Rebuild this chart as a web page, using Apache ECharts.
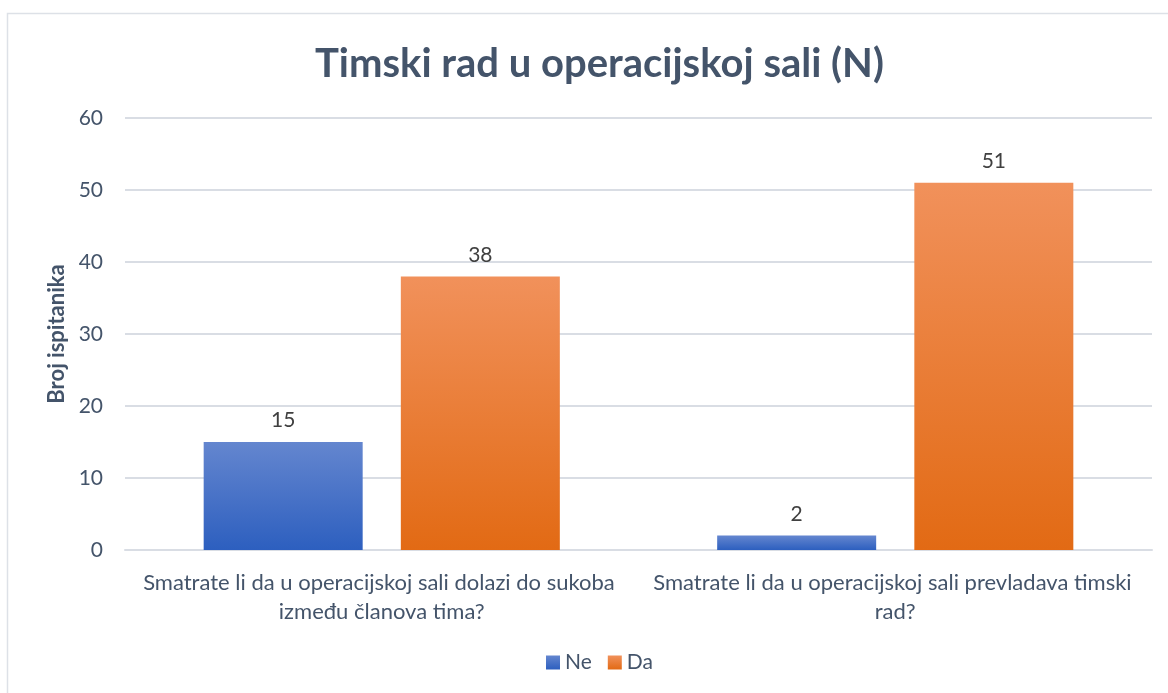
<!DOCTYPE html>
<html>
<head>
<meta charset="utf-8">
<script src="https://cdn.jsdelivr.net/npm/echarts@6/dist/echarts.min.js"></script>
<style>
html,body{margin:0;padding:0;background:#fff;}
#chart{width:1168px;height:693px;}
</style>
</head>
<body>
<div id="chart"></div>
<script>
const categories = [
  "Smatrate li da u operacijskoj sali dolazi do sukoba između članova tima?",
  "Smatrate li da u operacijskoj sali prevladava timski rad?"
];
const seriesNames = ["Ne", "Da"];
const neValues = [15, 2];
const daValues = [38, 51];
const yTicks = { min: 0, max: 60, interval: 10 };

const FONT = "Lato, 'Open Sans', sans-serif";
const TXT = "#44546A";

function grad(top, bottom) {
  return new echarts.graphic.LinearGradient(0, 0, 0, 1, [
    { offset: 0, color: top },
    { offset: 1, color: bottom }
  ]);
}

const chart = echarts.init(document.getElementById('chart'), null, { renderer: 'canvas' });
chart.setOption({
  backgroundColor: '#ffffff',
  animation: false,
  title: {
    text: 'Timski rad u operacijskoj sali (N)',
    left: 310,
    top: 39,
    textStyle: { fontFamily: FONT, fontSize: 40, fontWeight: 'bold', color: TXT }
  },
  legend: {
    data: seriesNames,
    bottom: 15,
    left: 541,
    itemWidth: 14,
    itemHeight: 14,
    itemGap: 16,
    icon: 'rect',
    textStyle: { fontFamily: FONT, fontSize: 21, color: TXT }
  },
  graphic: [{
    type: 'rect',
    shape: { x: 7.5, y: 13.5, width: 1200, height: 720 },
    style: { fill: 'none', stroke: '#dde1e7', lineWidth: 1.5 },
    silent: true
  }],
  grid: { left: 125, right: 16, top: 118, bottom: 143, containLabel: false },
  xAxis: {
    type: 'category',
    data: categories,
    axisLine: { show: true, lineStyle: { color: '#d9dde4', width: 2 } },
    axisTick: { show: false },
    axisLabel: {
      interval: 0,
      fontFamily: FONT,
      fontSize: 22,
      color: TXT,
      margin: 18,
      lineHeight: 29,
      width: 500,
      overflow: 'break',
      align: 'center'
    }
  },
  yAxis: {
    type: 'value',
    min: yTicks.min,
    max: yTicks.max,
    interval: yTicks.interval,
    name: 'Broj ispitanika',
    nameLocation: 'middle',
    nameGap: 54,
    nameRotate: 90,
    nameTextStyle: { fontFamily: FONT, fontSize: 22, fontWeight: 'bold', color: TXT },
    axisLine: { show: false },
    axisTick: { show: false },
    axisLabel: { fontFamily: FONT, fontSize: 21, color: TXT, margin: 22 },
    splitLine: { lineStyle: { color: '#d9dde4', width: 2 } }
  },
  series: [
    {
      name: seriesNames[0],
      type: 'bar',
      data: neValues,
      barWidth: 159,
      barGap: '24%',
      itemStyle: { color: grad('#6486cf', '#2d5fbf') },
      label: { show: true, position: 'top', distance: 11, fontFamily: FONT, fontSize: 21, color: '#404040' }
    },
    {
      name: seriesNames[1],
      type: 'bar',
      data: daValues,
      barWidth: 159,
      itemStyle: { color: grad('#f1915b', '#e26a14') },
      label: { show: true, position: 'top', distance: 11, fontFamily: FONT, fontSize: 21, color: '#404040' }
    }
  ]
});
</script>
</body>
</html>
